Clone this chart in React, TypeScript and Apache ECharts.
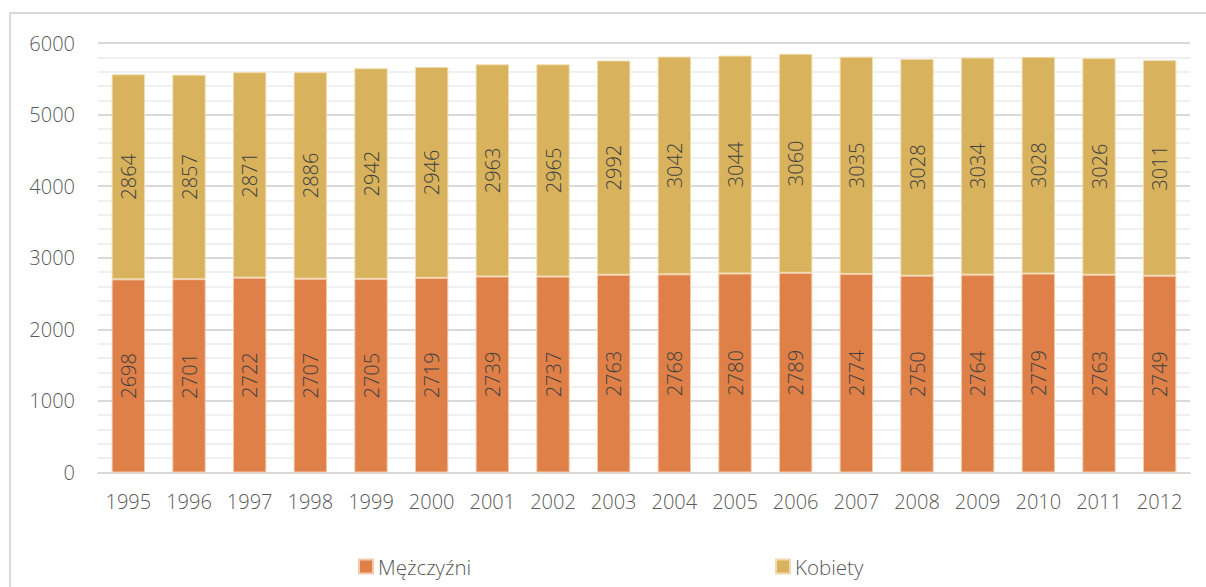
import React, { useEffect, useRef } from "react";
import * as echarts from "echarts";

const years = ["1995","1996","1997","1998","1999","2000","2001","2002","2003","2004","2005","2006","2007","2008","2009","2010","2011","2012"];
const men = [2698,2701,2722,2707,2705,2719,2739,2737,2763,2768,2780,2789,2774,2750,2764,2779,2763,2749];
const women = [2864,2857,2871,2886,2942,2946,2963,2965,2992,3042,3044,3060,3035,3028,3034,3028,3026,3011];
const seriesNames = ["Mężczyźni", "Kobiety"];
const colors = ["#DE8047", "#D8B25C"];

const FONT = "'Open Sans', 'Noto Sans', sans-serif";

export default function App() {
  const ref = useRef<HTMLDivElement>(null);
  useEffect(() => {
    document.body.style.margin = "0";
    const chart = echarts.init(ref.current!, null, { renderer: "svg" });
    const label = {
      show: true,
      position: "inside",
      rotate: 90,
      color: "#404040",
      fontSize: 20,
      fontWeight: 300,
      fontFamily: FONT,
    };
    const legendText = { color: "#595959", fontSize: 20.5, fontWeight: 300, fontFamily: FONT };
    chart.setOption({
      animation: false,
      backgroundColor: "#ffffff",
      textStyle: { fontFamily: FONT },
      grid: { left: 98, right: 16, top: 43, bottom: 114.5 },
      legend: [
        {
          data: [seriesNames[0]],
          left: 353, top: 551,
          icon: "rect", itemWidth: 14, itemHeight: 14, itemGap: 6,
          textStyle: legendText,
        },
        {
          data: [seriesNames[1]],
          left: 770, top: 551,
          icon: "rect", itemWidth: 14, itemHeight: 14, itemGap: 6,
          textStyle: legendText,
        },
      ],
      xAxis: {
        type: "category",
        data: years,
        axisLine: { lineStyle: { color: "#d9d9d9", width: 2 } },
        axisTick: { show: false },
        axisLabel: { color: "#595959", fontSize: 20, fontWeight: 300, margin: 19, fontFamily: FONT },
      },
      yAxis: {
        type: "value",
        min: 0, max: 6000, interval: 1000,
        axisLine: { show: false },
        axisTick: { show: false },
        axisLabel: {
          color: "#595959", fontSize: 20, fontWeight: 300, margin: 23, fontFamily: FONT,
          formatter: (v: number) => String(v),
        },
        splitLine: { lineStyle: { color: "#d9d9d9", width: 2 } },
        minorTick: { show: false, splitNumber: 5 },
        minorSplitLine: { show: true, lineStyle: { color: "#f0f0f0", width: 2 } },
      },
      series: [
        {
          name: seriesNames[0], type: "bar", stack: "total", data: men,
          barWidth: "55%",
          itemStyle: { color: colors[0], borderColor: "#f5c9ae", borderWidth: 1 },
          label,
        },
        {
          name: seriesNames[1], type: "bar", stack: "total", data: women,
          barWidth: "55%",
          itemStyle: { color: colors[1], borderColor: "#f0dcae", borderWidth: 1 },
          label,
        },
      ],
      graphic: [
        {
          type: "polyline",
          shape: { points: [[10, 600], [10, 13], [1210, 13]] },
          style: { stroke: "#d9d9d9", lineWidth: 2, fill: null },
          silent: true,
        },
      ],
    });
    return () => chart.dispose();
  }, []);
  return <div ref={ref} style={{ width: 1206, height: 587 }} />;
}
